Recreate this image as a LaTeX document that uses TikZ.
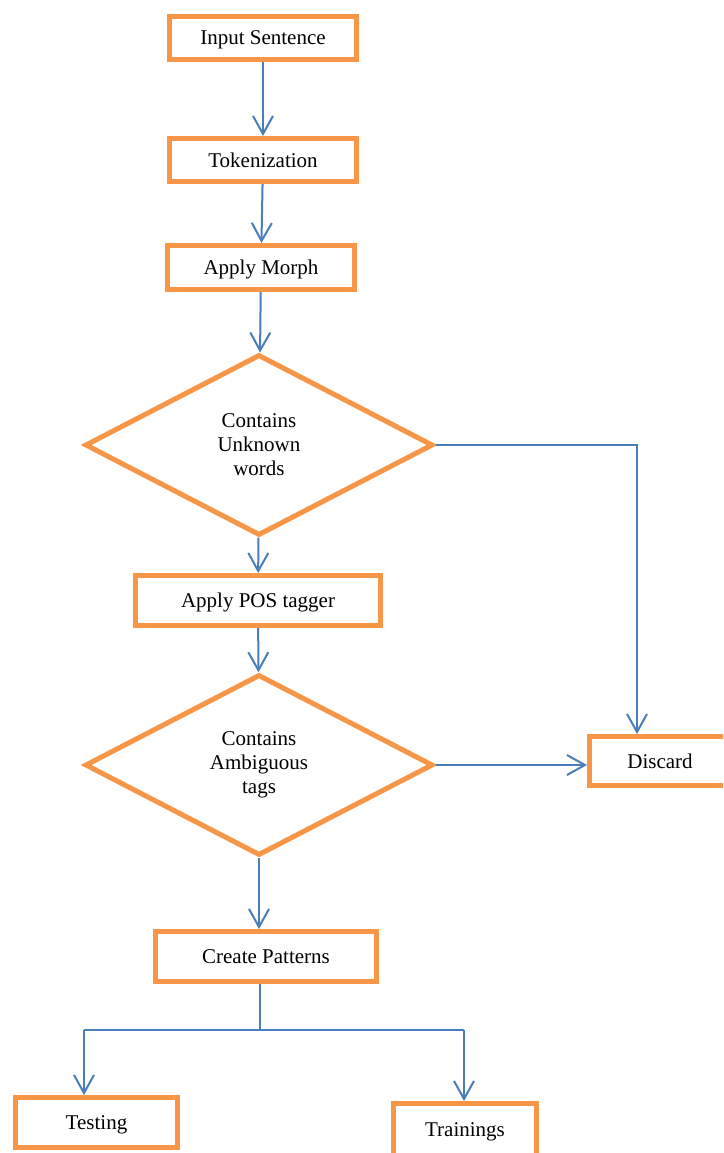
\documentclass[tikz,border=0pt]{standalone}
\usepackage{fontspec}
\setmainfont{Liberation Serif}
\usetikzlibrary{shapes.geometric, arrows.meta}
\definecolor{boxorange}{HTML}{F79646}
\definecolor{lineblue}{HTML}{4A7EBB}

\begin{document}
\begin{tikzpicture}[x=1pt, y=-1pt, font=\fontsize{21}{24}\selectfont,
  block/.style={rectangle, draw=boxorange, line width=5pt, inner sep=0pt, text depth=0pt},
  decision/.style={diamond, draw=boxorange, line width=5pt, inner sep=0pt,
    minimum width=348pt, minimum height=181pt, align=center},
  link/.style={lineblue, line width=2pt},
  tip/.style={-{Straight Barb[length=18pt, width=20pt]}}]
  \useasboundingbox (0,0) rectangle (723,1153);
  \clip (0,0) rectangle (723,1153);

  \node[block, minimum width=187pt, minimum height=43pt] (input) at (263,38) {Input Sentence};
  \node[block, minimum width=187pt, minimum height=43pt] (token) at (263,160) {Tokenization};
  \node[block, minimum width=187pt, minimum height=44pt] (morph) at (261,267.5) {Apply Morph};
  \node[decision] (unknown) at (259,445) {Contains\\Unknown\\words};
  \node[block, minimum width=245pt, minimum height=50pt] (pos) at (258,600.5) {Apply POS tagger};
  \node[decision] (ambig) at (259,765) {Contains\\Ambiguous\\tags};
  \node[block, minimum width=141pt, minimum height=49pt] (discard) at (660,761) {Discard};
  \node[block, minimum width=221pt, minimum height=50pt] (patterns) at (266,956.5) {Create Patterns};
  \node[block, minimum width=162pt, minimum height=50pt] (testing) at (96.5,1122.5) {Testing};
  \node[block, minimum width=143pt, minimum height=53pt] (training) at (465,1130) {Trainings};

  \coordinate (turn) at (637,445);
  \coordinate (split) at (260,1030);
  \coordinate (testfork) at (84,1030);
  \coordinate (trainfork) at (464,1030);

  \path[link, tip]
  (input) edge (token)
  (token) edge (morph)
    (morph) edge (unknown)
  (unknown) edge (pos)
    (pos) edge (ambig)
  (ambig.south) edge (ambig.south |- patterns.north)
    (ambig.east) edge (ambig.east -| discard.west);

  \draw[link, tip] (unknown.east) -- (turn) -- (turn |- discard.north);
  \draw[link] (split |- patterns.south) -- (split);
  \draw[link] (testfork) -- (trainfork);
  \draw[link, tip] (testfork) -- (testfork |- testing.north);
  \draw[link, tip] (trainfork) -- (trainfork |- training.north);
\end{tikzpicture}
\end{document}
